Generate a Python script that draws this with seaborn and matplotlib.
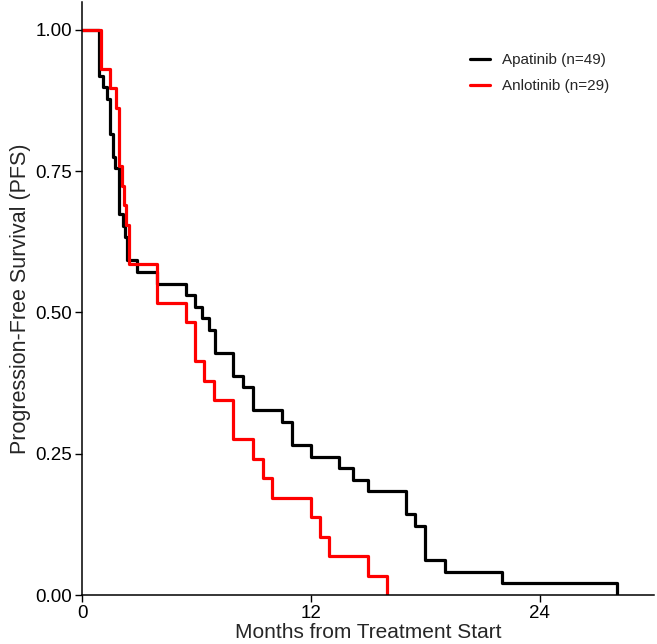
import numpy as np
import pandas as pd
import matplotlib
matplotlib.use("Agg")
import matplotlib.pyplot as plt
import seaborn as sns

# step data (event month, patients still event-free)
apatinib_n = 49
apatinib_months = [0, 0.91, 1.08, 1.29, 1.47, 1.64, 1.75, 1.94, 2.13, 2.25, 2.34, 2.9,
                   3.95, 5.43, 5.92, 6.27, 6.67, 6.97, 7.93, 8.46, 8.98, 10.5, 10.99,
                   12.02, 13.5, 14.19, 15.0, 17.0, 17.49, 18.01, 19.03, 22.03, 28.06]
apatinib_left = [49, 45, 44, 43, 40, 38, 37, 33, 32, 31, 29, 28,
                 27, 26, 25, 24, 23, 21, 19, 18, 16, 15, 13,
                 12, 11, 10, 9, 7, 6, 3, 2, 1, 0]

anlotinib_n = 29
anlotinib_months = [0, 0.98, 1.47, 1.76, 1.96, 2.08, 2.19, 2.3, 2.48, 3.95, 5.43, 5.92,
                    6.41, 6.92, 7.93, 8.96, 9.47, 9.99, 12.0, 12.47, 12.96, 15.0, 16.0]
anlotinib_left = [29, 27, 26, 25, 22, 21, 20, 19, 17, 15, 14, 12,
                  11, 10, 8, 7, 6, 5, 4, 3, 2, 1, 0]

labels = ["Apatinib (n=49)", "Anlotinib (n=29)"]
colors = ["black", "#FF0000"]

df = pd.concat([
    pd.DataFrame({"month": apatinib_months,
                  "pfs": np.array(apatinib_left) / apatinib_n,
                  "group": labels[0]}),
    pd.DataFrame({"month": anlotinib_months,
                  "pfs": np.array(anlotinib_left) / anlotinib_n,
                  "group": labels[1]}),
], ignore_index=True)

sns.set_style("ticks")
plt.rcParams["font.family"] = ["Liberation Sans", "DejaVu Sans"]

fig = plt.figure(figsize=(6.57, 6.44), dpi=100)
ax = fig.add_axes([82 / 657, 1 - 595 / 644, (654 - 82) / 657, (595 - 1.5) / 644])

sns.lineplot(data=df, x="month", y="pfs", hue="group", hue_order=labels,
             palette=colors, estimator=None, sort=False, drawstyle="steps-post",
             linewidth=2.3, ax=ax)

ax.set_xlim(0, 30)
ax.set_ylim(0, 1.05)
ax.set_xticks([0, 12, 24])
ax.set_yticks([0, 0.25, 0.5, 0.75, 1.0])
ax.set_yticklabels(["0.00", "0.25", "0.50", "0.75", "1.00"])
ax.tick_params(labelsize=13.5, length=5, width=1, colors="black", pad=2)
ax.set_xlabel("Months from Treatment Start", fontsize=15, labelpad=1)
ax.set_ylabel("Progression-Free Survival (PFS)", fontsize=15.5, labelpad=3)
for side in ["top", "right"]:
    ax.spines[side].set_visible(False)
for side in ["left", "bottom"]:
    ax.spines[side].set_linewidth(1.1)
    ax.spines[side].set_color("black")

ax.legend(title=None, frameon=False, loc="upper left",
          bbox_to_anchor=(0.678, 0.913), fontsize=11, handlelength=1.35,
          handletextpad=0.75, labelspacing=0.8, borderpad=0, borderaxespad=0)

fig.savefig("out.png", dpi=100)
